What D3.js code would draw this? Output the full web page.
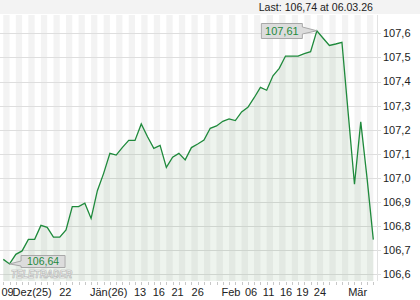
<!DOCTYPE html>
<html><head><meta charset="utf-8">
<script src="https://cdn.jsdelivr.net/npm/d3@7"></script>
<style>body{margin:0;background:#fff}svg{display:block}text{font-family:"Liberation Sans",Arial,sans-serif}</style>
</head><body><svg id="c" width="420" height="300"></svg>
<script>
// ---- data ----
const values = [106.662,106.643,106.683,106.697,106.745,106.745,106.803,106.795,106.754,106.754,
106.784,106.881,106.881,106.895,106.832,106.947,107.019,107.102,107.095,107.127,
107.156,107.156,107.224,107.171,107.123,107.135,107.044,107.086,107.102,107.075,
107.126,107.141,107.157,107.206,107.216,107.235,107.245,107.238,107.274,107.293,
107.333,107.376,107.364,107.424,107.455,107.506,107.506,107.506,107.516,107.524,
107.611,107.580,107.550,107.556,107.563,107.268,106.974,107.233,107.000,106.744];
const xTickLabels = ["09","Dez(25)","22","Jän(26)","13","16","21","26","Feb","06","11","16","19","24","Mär"];
const xTickIndex  = [0.67,4.6,9.9,16.8,21.8,24.8,27.8,31.0,36.3,39.5,42.3,45.1,47.7,50.5,56.5];
const yTicks = [106.6,106.7,106.8,106.9,107.0,107.1,107.2,107.3,107.4,107.5,107.6];
const lastLabel = "Last: 106,74 at 06.03.26";
const maxLabel = "107,61", minLabel = "106,64";

const fmt = v => d3.format(".1f")(v).replace(".", ",");
const svg = d3.select("#c");
const L = 0, R = 377, T = 15, B = 281;
const x = d3.scaleLinear().domain([0, values.length - 1]).range([3.3, 373.3]);
const y = d3.scaleLinear().domain([106.6, 107.6]).range([274.3, 33.4]);
const green = "#1f8a3c";

// top strip
svg.append("rect").attr("x",0).attr("y",0).attr("width",420).attr("height",14).attr("fill","#f3f3f3");

// stripes
const idx = d3.range(values.length - 1).filter(i => i % 2 === 0);
svg.append("g").selectAll("rect").data(idx).join("rect")
  .attr("x", i => x(i)).attr("y", T).attr("width", i => x(i+1) - x(i)).attr("height", B - T)
  .attr("fill", "#f3f3f3");

// grid
svg.append("g").selectAll("line").data(yTicks).join("line")
  .attr("x1", L).attr("x2", R + 4).attr("y1", d => Math.round(y(d)) + 0.5).attr("y2", d => Math.round(y(d)) + 0.5)
  .attr("stroke", "#dedede").attr("stroke-width", 1);
svg.append("line").attr("x1", R + 0.5).attr("x2", R + 0.5).attr("y1", T).attr("y2", B).attr("stroke", "#e2e2e2");

// area + line
const area = d3.area().x((d,i) => x(i)).y0(B).y1(d => y(d));
svg.append("path").datum(values).attr("d", area).attr("fill", "rgb(40,120,40)").attr("fill-opacity", 0.08);
const line = d3.line().x((d,i) => x(i)).y(d => y(d));
svg.append("path").datum(values).attr("d", line).attr("fill", "none").attr("stroke", green).attr("stroke-width", 1.3);

// y labels
svg.append("g").selectAll("text").data(yTicks).join("text")
  .attr("x", 383).attr("y", d => y(d)).attr("dy", "0.35em")
  .attr("font-size", 11).attr("fill", "#222").text(fmt);

// x ticks
svg.append("g").selectAll("line").data(d3.range(values.length)).join("line")
  .attr("x1", i => Math.round(x(i)) + 0.5).attr("x2", i => Math.round(x(i)) + 0.5)
  .attr("y1", B + 1).attr("y2", B + 4).attr("stroke", "#c8c8c8");
svg.append("g").selectAll("text").data(xTickLabels).join("text")
  .attr("x", (d,i) => x(xTickIndex[i])).attr("y", 296).attr("text-anchor", "middle")
  .attr("font-size", 11).attr("fill", "#222").text(d => d);

// last label
svg.append("text").attr("x", 373).attr("y", 11).attr("text-anchor", "end")
  .attr("font-size", 10.6).attr("fill", "#222").text(lastLabel);

// max callout
const iMax = d3.maxIndex(values), iMin = d3.minIndex(values);
const px = x(iMax), py = y(values[iMax]);
svg.append("path")
  .attr("d", `M${px-55.5},23.5 H${px-14.5} V27 L${px},${py} L${px-14.5},34 V38.5 H${px-55.5} Z`)
  .attr("fill", "#dcdcdc").attr("stroke", "#a8a8a8");
svg.append("text").attr("x", px - 35).attr("y", 35).attr("text-anchor", "middle")
  .attr("font-size", 11).attr("fill", green).text(maxLabel);

// min callout
const mx = x(iMin), my = y(values[iMin]);
svg.append("path")
  .attr("d", `M${mx+11.5},255.5 H${mx+55.5} V267.5 H${mx+11.5} V266 L${mx},${my} L${mx+11.5},261 Z`)
  .attr("fill", "#dcdcdc").attr("stroke", "#a8a8a8");
svg.append("text").attr("x", mx + 33.5).attr("y", 265).attr("text-anchor", "middle")
  .attr("font-size", 10.5).attr("fill", green).text(minLabel);

// watermark
svg.append("text").attr("x", 11).attr("y", 278).attr("font-size", 10).attr("font-weight", "bold")
  .attr("font-style", "italic").attr("textLength", 61).attr("lengthAdjust", "spacingAndGlyphs")
  .attr("fill", "#fff").attr("fill-opacity", 0.7).attr("stroke", "#b5b5b5").attr("stroke-width", 0.7)
  .text("TELETRADER");
</script></body></html>
